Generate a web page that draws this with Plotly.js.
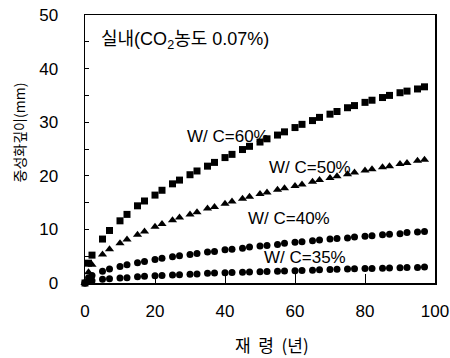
<!DOCTYPE html>
<html>
<head>
<meta charset="utf-8">
<script src="https://cdn.plot.ly/plotly-3.0.1.min.js"></script>
<style>html,body{margin:0;padding:0;background:#fff;}#chart{width:450px;height:358px;}</style>
</head>
<body>
<div id="chart"></div>
<script>
const years = [0,1,2,5,7,10,12,15,17,20,22,25,27,30,32,35,37,40,42,45,47,50,52,55,57,60,62,65,67,70,72,75,77,80,82,85,87,90,92,95,97];
const wc60 = [0,3.7,5.2,8.2,9.8,11.6,12.8,14.4,15.3,16.4,17.3,18.5,19.2,20.2,20.9,21.8,22.5,23.4,24.0,24.9,25.5,26.3,26.9,27.6,28.2,29.0,29.6,30.3,30.9,31.5,32.0,32.7,33.1,33.7,34.1,34.6,35.0,35.5,35.8,36.2,36.6];
const wc50 = [0,2.0,3.4,5.3,6.3,7.4,8.1,9.0,9.6,10.5,11.0,11.7,12.2,12.8,13.2,13.9,14.2,14.8,15.2,15.7,16.1,16.6,16.9,17.4,17.7,18.1,18.4,18.9,19.2,19.6,19.9,20.3,20.6,21.0,21.2,21.6,21.8,22.2,22.4,22.8,23.0];
const wc40 = [0,1.0,1.4,2.2,2.6,3.1,3.4,3.8,4.0,4.4,4.6,4.9,5.1,5.3,5.5,5.8,5.9,6.2,6.3,6.5,6.7,6.9,7.0,7.2,7.4,7.6,7.7,7.9,8.0,8.2,8.3,8.4,8.6,8.7,8.8,9.0,9.1,9.2,9.4,9.5,9.6];
const wc35 = [0,0.3,0.4,0.7,0.8,0.95,1.0,1.15,1.25,1.35,1.4,1.5,1.55,1.65,1.7,1.8,1.85,1.9,1.95,2.0,2.05,2.1,2.15,2.2,2.25,2.3,2.35,2.4,2.45,2.5,2.55,2.6,2.65,2.7,2.7,2.75,2.8,2.85,2.9,2.9,3.0];
const seriesNames = ['W/ C=60%','W/ C=50%','W/ C=40%','W/ C=35%'];
const xTicks = [0,20,40,60,80,100];
const yTicks = [0,10,20,30,40,50];
const xTitle = '재  령  (년)';
const yTitle = '중성화깊이(mm)';
const chartTitle = '실내(CO<sub>2</sub>농도 0.07%)';

const latin = 'Liberation Sans, Arial, Noto Sans CJK KR, sans-serif';
const kr = 'Noto Sans CJK KR, sans-serif';

function tr(y, sym, size, name){
  return {x: years, y: y, type:'scatter', mode:'markers', name: name,
    marker:{symbol: sym, size: size, color:'#000'}, cliponaxis:false};
}
const data = [
  tr(wc60,'square',7,seriesNames[0]),
  tr(wc50,'triangle-up',8,seriesNames[1]),
  tr(wc40,'circle',7,seriesNames[2]),
  tr(wc35,'circle',7,seriesNames[3])
];

const layout = {
  width:450, height:358,
  margin:{l:85, r:15, t:15, b:75},
  paper_bgcolor:'#fff', plot_bgcolor:'#fff',
  showlegend:false,
  font:{family: latin, color:'#000', size:15},
  xaxis:{range:[0,100], tickvals:xTicks, ticktext:xTicks.map(String),
    ticks:'inside', ticklen:9, tickwidth:1, tickcolor:'#000',
    showline:true, linecolor:'#000', linewidth:1.5, mirror:true,
    showgrid:false, zeroline:false, ticklabelstandoff:12,
    tickfont:{family:latin, size:17}},
  yaxis:{range:[0,50], tickvals:yTicks, ticktext:yTicks.map(String),
    ticks:'inside', ticklen:4, tickwidth:1, tickcolor:'#000',
    minor:{dtick:5, ticks:'inside', ticklen:4, tickcolor:'#000'},
    showline:true, linecolor:'#000', linewidth:1.5, mirror:true,
    showgrid:false, zeroline:false, ticklabelstandoff:22,
    tickfont:{family:latin, size:17}},
  annotations:[
    {xref:'paper', yref:'paper', x:0.04, y:0.905, xanchor:'left', yanchor:'middle', showarrow:false,
     text:chartTitle, font:{family:latin, size:18}},
    {xref:'paper', yref:'paper', x:0.535, y:-0.228, xanchor:'center', yanchor:'middle', showarrow:false,
     text:xTitle, font:{family:kr, size:17}},
    {xref:'paper', yref:'paper', x:-0.19, y:0.56, xanchor:'center', yanchor:'middle', showarrow:false,
     textangle:-90, text:yTitle, font:{family:kr, size:14}},
    {xref:'x', yref:'y', x:28.5, y:27.4, xanchor:'left', yanchor:'middle', showarrow:false, text:seriesNames[0], font:{family:latin, size:17}},
    {xref:'x', yref:'y', x:52, y:21.6, xanchor:'left', yanchor:'middle', showarrow:false, text:seriesNames[1], font:{family:latin, size:17}},
    {xref:'x', yref:'y', x:46, y:12.0, xanchor:'left', yanchor:'middle', showarrow:false, text:seriesNames[2], font:{family:latin, size:17}},
    {xref:'x', yref:'y', x:50.5, y:4.7, xanchor:'left', yanchor:'middle', showarrow:false, text:seriesNames[3], font:{family:latin, size:17}}
  ]
};
Plotly.newPlot('chart', data, layout, {staticPlot:true, displayModeBar:false});
</script>
</body>
</html>
